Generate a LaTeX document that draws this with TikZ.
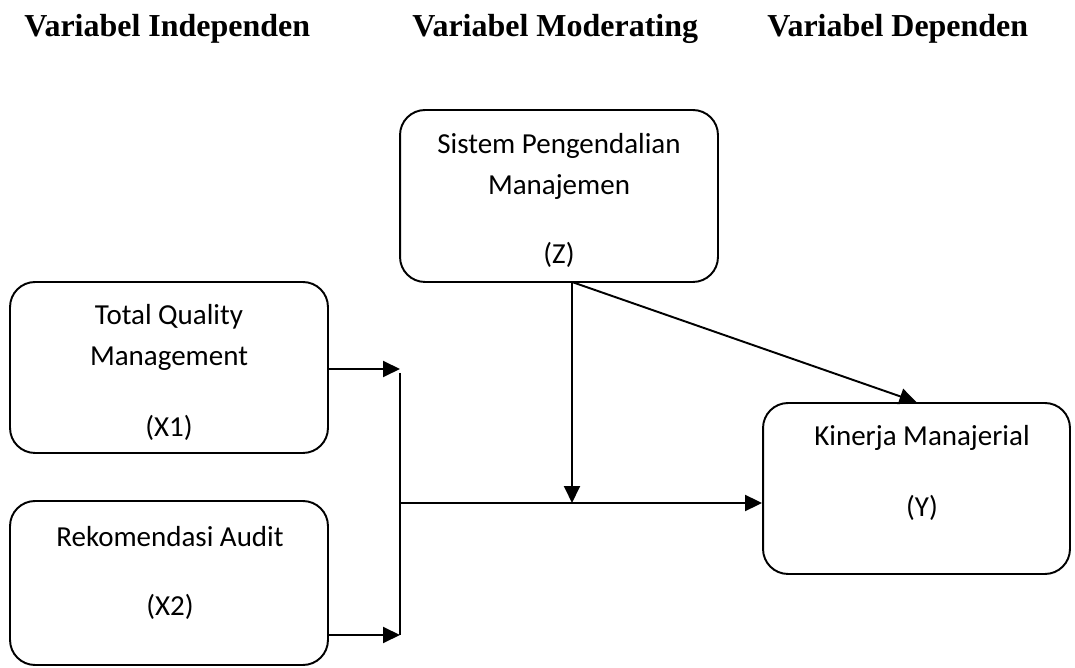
\documentclass[tikz,border=0pt]{standalone}
\usepackage{fontspec}
\setmainfont{Liberation Serif}
\newfontfamily\kotakfont{Carlito}
\usetikzlibrary{arrows.meta,calc,positioning}

\begin{document}
\begin{tikzpicture}[x=0.02cm,y=-0.02cm,>={Triangle[length=0.34cm,width=0.32cm]}]

% Stili per kotak dan teks
\tikzset{kotak/.style={draw,line width=1.1pt,rounded corners=0.5cm,minimum width=6.36cm,inner sep=0pt},
  isi/.style={font=\kotakfont\fontsize{16.5}{23.3}\selectfont,align=center,inner sep=0pt},
  judul/.style={font=\bfseries\fontsize{18.2}{22}\selectfont,anchor=base west,inner sep=0pt},
  panah/.style={->,line width=1.1pt}}

\useasboundingbox (0,0) rectangle (1075,668);

% --- Judul kolom ---
\node[judul] (jind) at (24,37) {Variabel Independen};
\node[judul] (jmod) at (412,37) {Variabel Moderating};
\node[judul] (jdep) at (767,37) {Variabel Dependen};

% --- Kotak variabel ---
\node[kotak,minimum height=3.44cm] (z) at (559,196) {};
\node[kotak,minimum height=3.42cm] (x1) at (169,367.5) {};
\node[kotak,minimum height=3.28cm] (x2) at (169,583) {};
\node[kotak,minimum width=6.14cm,minimum height=3.42cm] (y) at (916.5,488.5) {};

% Teks dalam kotak
\node[isi] (zt) at (559,166) {Sistem Pengendalian\\Manajemen};
\node[isi] (zk) at (559,255) {(Z)};
\node[isi] (x1t) at (169,337.5) {Total Quality\\Management};
\node[isi] (x1k) at (169,428) {(X1)};
\node[isi] (x2t) at (170,537) {Rekomendasi Audit};
\node[isi] (x2k) at (170,607) {(X2)};
\node[isi] (yt) at (922,438) {Kinerja Manajerial};
\node[isi] (yk) at (922,508) {(Y)};

% --- Titik bantu ---
\coordinate (k1) at (400,369);
\coordinate (ktop) at (400,373);
\coordinate (k2) at (400,635);
\coordinate (m) at (400,503);
\coordinate (zs) at (572,282);

% Panah dari X1 dan X2
\draw[panah] (x1.east |- k1) -- (k1);
\draw[panah] (x2.east |- k2) -- (k2);
\draw[line width=1.1pt] (ktop) -- (k2);

% Panah ke Y
\draw[panah] (m) -- (m -| y.west);
\draw[panah] (zs) -- (zs |- m);
\draw[panah] (zs) -- (y.north);

\end{tikzpicture}
\end{document}
